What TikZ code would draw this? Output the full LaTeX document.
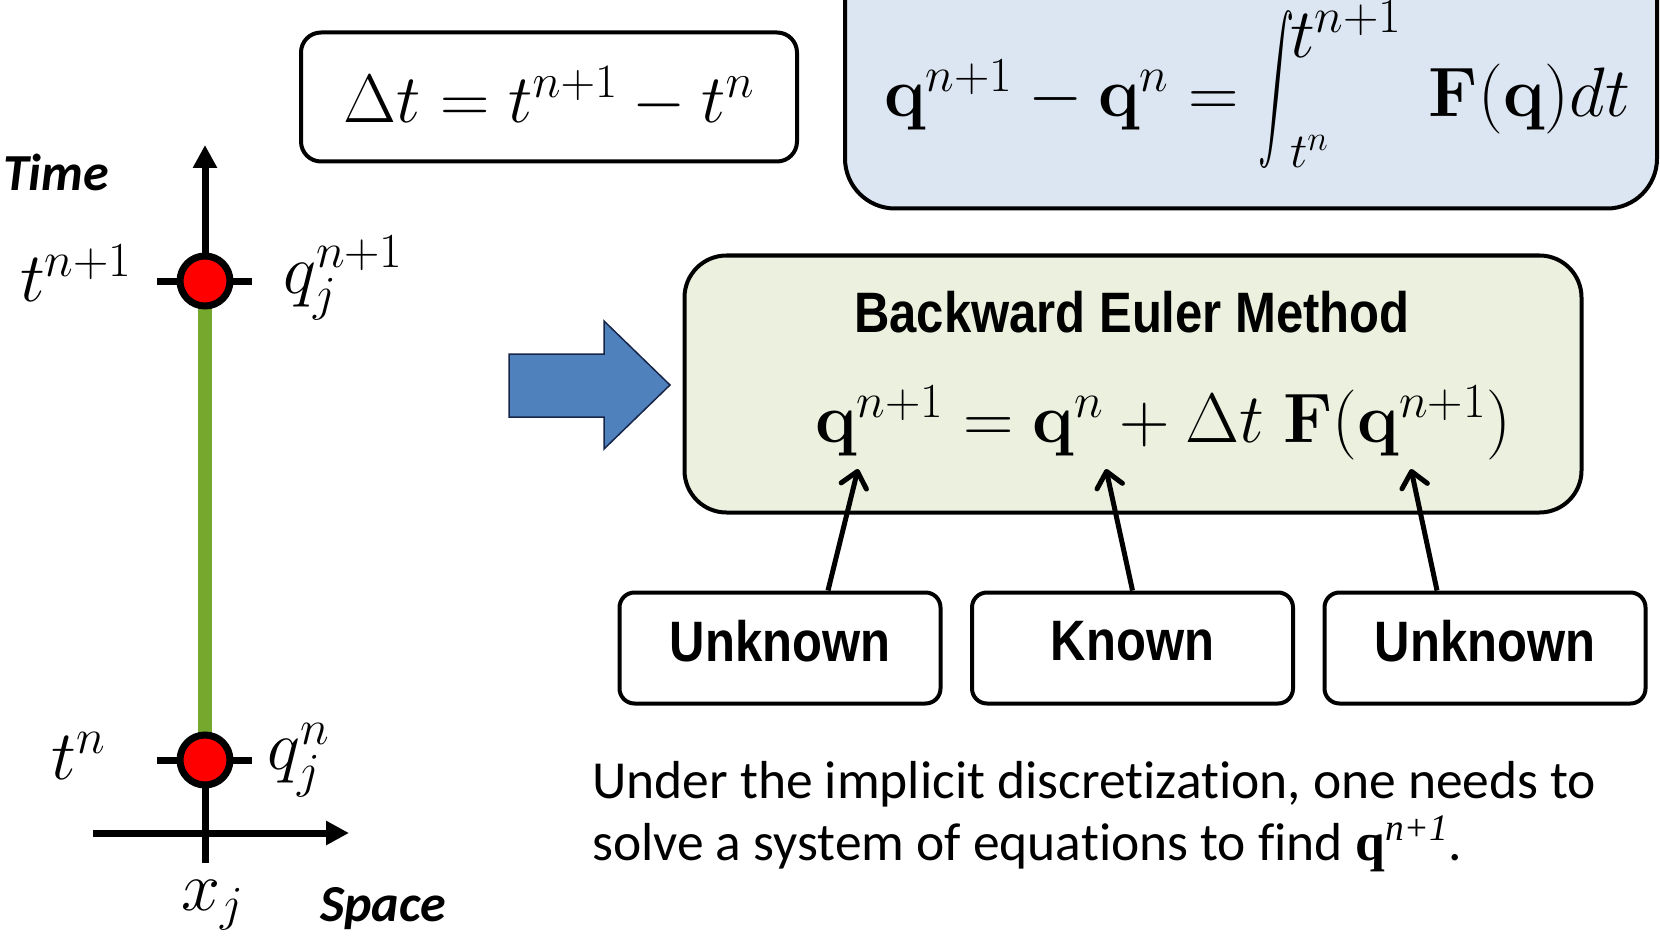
\RequirePackage{fix-cm}
\documentclass[tikz,border=0pt]{standalone}
\usepackage{amsmath}
\usepackage{graphicx}
\usepackage[no-math]{fontspec}
\newfontfamily\bodyfont[Ligatures=NoCommon]{Carlito}
\newfontfamily\headfont[FakeStretch=0.86]{Liberation Sans}
\newfontfamily\timesfont{Liberation Serif}
\usetikzlibrary{positioning,arrows.meta}
\definecolor{ptred}{RGB}{255,0,0}
\definecolor{seggreen}{RGB}{119,168,46}
\definecolor{intfill}{RGB}{220,230,242}
\definecolor{eulerfill}{RGB}{235,241,222}
\definecolor{bigarrow}{RGB}{79,129,189}
\definecolor{bigarrowedge}{RGB}{23,37,72}
\newcommand{\bq}{\mathbf{q}}
\newcommand{\bF}{\mathbf{F}}
\newcommand{\bigint}[2]{\mathop{%
  \raisebox{10pt}{$\vcenter{\hbox{\resizebox*{36pt}{158pt}{$\displaystyle\intop$}}}$}%
  \mkern-1mu\rlap{\raisebox{59pt}{$\textstyle #2$}}%
  \rlap{\raisebox{-51pt}{$\scriptstyle #1$}}\hphantom{\textstyle #2}}\mkern4mu}
\tikzset{
  axis/.style={line width=7pt},
  axisarrow/.style={-{Triangle[length=23pt,width=23pt]},line width=7pt},
  gpt/.style={circle,fill=ptred,draw=black,line width=7pt,minimum size=50pt,
    inner sep=0pt},
  mathlbl/.style={inner sep=0pt,font=\fontsize{70}{76}\selectfont},
  axislbl/.style={inner sep=0pt,font=\fontsize{52}{58}\selectfont\bodyfont\bfseries\itshape},
  eqbox/.style={draw=black,line width=4pt,inner sep=0pt},
  bigeq/.style={inner sep=0pt,font=\fontsize{70}{78}\selectfont},
  labbox/.style={draw=black,line width=4pt,rounded corners=15pt,minimum width=321pt,
    minimum height=111pt,inner sep=0pt,text depth=14pt,
    font=\fontsize{57}{64}\selectfont\headfont\bfseries},
  pointer/.style={-{Straight Barb[length=15pt,width=26pt,round]},line width=5pt},
  bodytxt/.style={inner sep=0pt,font=\fontsize{53.5}{62}\selectfont\bodyfont},
}
\begin{document}
\begin{tikzpicture}[x=1pt,y=-1pt]
  \useasboundingbox (0,0) rectangle (1660,936);
  \clip (0,0) rectangle (1660,936);
  % space-time axes
  \coordinate (tBase) at (205,863);
  \coordinate (tTip) at (205,145);
  \coordinate (xBase) at (93,833);
  \coordinate (xTip) at (349,833);
  \coordinate (pNew) at (205,281);
  \coordinate (pOld) at (205,760);
  \draw[axisarrow] (tBase) -- (tTip);
  \draw[axisarrow] (xBase) -- (xTip);
  \draw[axis] ([xshift=-48pt]pNew) -- ([xshift=47pt]pNew);
  \draw[axis] ([xshift=-48pt]pOld) -- ([xshift=47pt]pOld);
  \draw[seggreen,line width=14pt] (pOld) -- (pNew);
  \node[gpt] (qNew) at (pNew) {};
  \node[gpt] (qOld) at (pOld) {};
  \node[axislbl,anchor=west] (timeLbl) at (3,172) {Time};
  \node[axislbl,anchor=west] (spaceLbl) at (320,909) {Space};
  \node[mathlbl,anchor=east] (tNewLbl) at (132,273) {$t^{n+1}$};
  \node[mathlbl,anchor=west] (qNewLbl) at (283,278) {$q_j^{n+1}$};
  \node[mathlbl,anchor=east] (tOldLbl) at (106,756) {$t^{n}$};
  \node[mathlbl,anchor=west] (qOldLbl) at (267,760) {$q_j^{n}$};
  \node[mathlbl] (xLbl) at (213,905) {$x_j$};
  % time step and integral form
  \node[eqbox,rounded corners=20pt,minimum width=496pt,minimum height=129pt,
    inner sep=0pt,font=\fontsize{68.5}{76}\selectfont]
    (dtBox) at (549,97) {$\Delta t = t^{n+1} - t^{n}$};
  \node[eqbox,fill=intfill,rounded corners=50pt,minimum width=812pt,minimum height=269pt]
    (intBox) at (1251,74) {};
  \node[bigeq,anchor=base] (intEq) at (1257,117)
    {$\bq^{n+1} - \bq^{n} = \bigint{t^n}{t^{n+1}} \bF(\bq) dt$};
  % arrow into the method
  \draw[fill=bigarrow,draw=bigarrowedge,line width=1.5pt]
    (509,354) -- (604,354) -- (604,321) -- (670,385) -- (604,449) -- (604,417)
    -- (509,417) -- cycle;
  % backward Euler box
  \node[eqbox,fill=eulerfill,rounded corners=42pt,minimum width=897pt,minimum height=257pt]
    (eulerBox) at (1133,384) {};
  \node[inner sep=0pt,font=\fontsize{57}{64}\selectfont\headfont\bfseries]
    (eulerTitle) at (1132,312) {Backward Euler Method};
  \node[bigeq] (eulerEq) at (1163,423)
    {$\bq^{n+1} = \bq^{n} + \Delta t\;\bF(\bq^{n+1})$};
  \node[labbox] (unkL) at (780,648) {Unknown};
  \node[labbox,right=27.5pt of unkL] (knownC) {Known};
  \node[labbox,right=27.5pt of knownC] (unkR) {Unknown};
  \coordinate (tipL) at (858,469);
  \coordinate (tipC) at (1106,469);
  \coordinate (tipR) at (1411,469);
  \draw[pointer] ([xshift=48pt]unkL.north) -- (tipL);
  \draw[pointer] (knownC.north) -- (tipC);
  \draw[pointer] ([xshift=-48pt]unkR.north) -- (tipR);
  \node[bodytxt,anchor=north west,align=left] (note) at (592,761)
    {Under the implicit discretization, one needs to\\
     solve a system of equations to find {\timesfont\bfseries q}\textsuperscript{\timesfont\itshape n+1}.};
\end{tikzpicture}
\end{document}
